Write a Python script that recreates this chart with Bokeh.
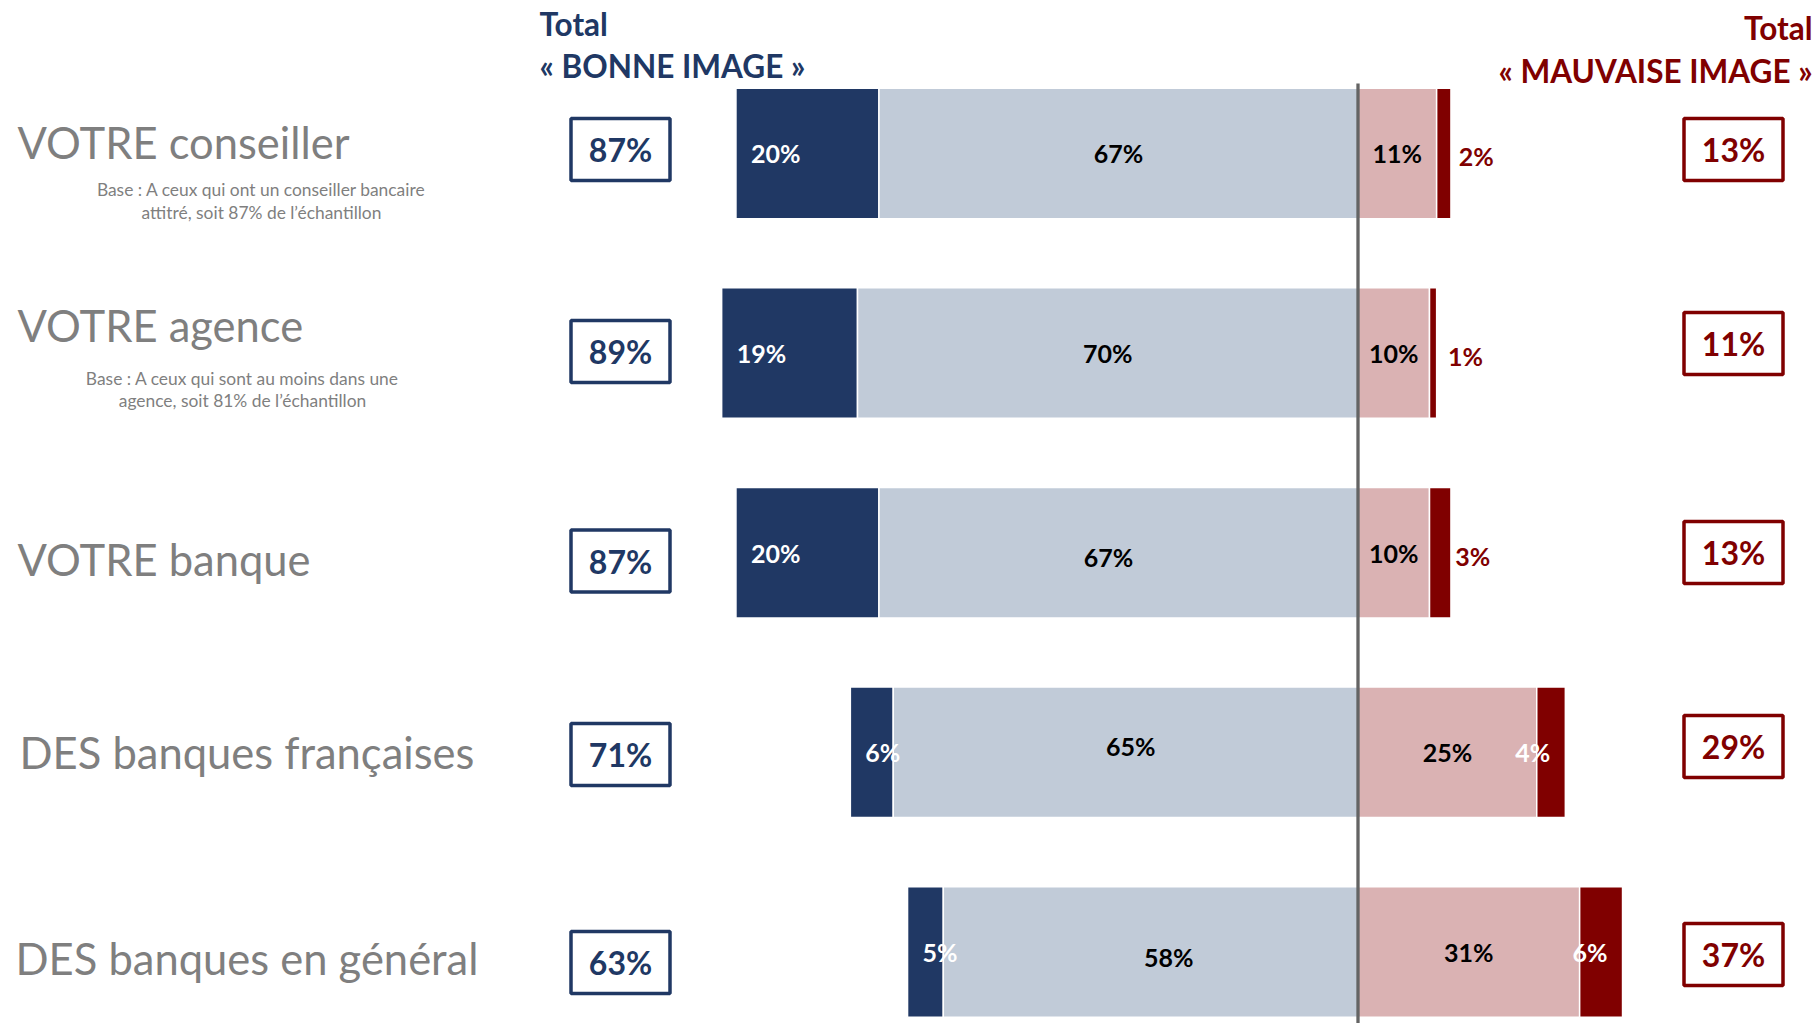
from bokeh.plotting import figure
from bokeh.models import Range1d
from bokeh.core.properties import value
from bokeh.embed import file_html
from bokeh.resources import INLINE

# ---------------- data ----------------
categories = ["VOTRE conseiller", "VOTRE agence", "VOTRE banque",
              "DES banques françaises", "DES banques en général"]
tres_bonne = [20, 19, 20, 6, 5]        # dark blue
plutot_bonne = [67, 70, 67, 65, 58]    # light blue
plutot_mauvaise = [11, 10, 10, 25, 31] # pink
tres_mauvaise = [2, 1, 3, 4, 6]        # dark red
total_bonne = [87, 89, 87, 71, 63]
total_mauvaise = [13, 11, 13, 29, 37]
base_notes = {
    0: ["Base : A ceux qui ont un conseiller bancaire", "attitré, soit 87% de l’échantillon"],
    1: ["Base : A ceux qui sont au moins dans une", "agence, soit 81% de l’échantillon"],
}

# ---------------- layout ----------------
W, H = 1818, 1023
CX = 1357.5      # px of the zero line
PPU = 7.15       # px per percent
ROW0 = 152.9     # px of first row centre
PPY = 199.65     # px between rows

def X(px):
    return (px - CX) / PPU

def Y(py):
    return (py - ROW0) / PPY

DARK_BLUE = "#203864"
LIGHT_BLUE = "#C1CBD8"
PINK = "#DAB2B3"
DARK_RED = "#800000"
GREY = "#7F7F7F"
FONT = value("Lato")

p = figure(width=W, height=H, output_backend="svg", toolbar_location=None,
           x_range=Range1d(X(0), X(W)),
           y_range=Range1d(Y(H), Y(0)),
           min_border=0, outline_line_color=None)
p.axis.visible = False
p.grid.visible = False
p.background_fill_color = "white"
p.border_fill_color = "white"

rows = list(range(len(categories)))
bh = 130.5 / PPY

left_db = [-(a + b) for a, b in zip(tres_bonne, plutot_bonne)]
right_db = [-b for b in plutot_bonne]
right_pk = list(plutot_mauvaise)
right_dr = [a + b for a, b in zip(plutot_mauvaise, tres_mauvaise)]

p.hbar(y=rows, left=left_db, right=right_db, height=bh, fill_color=DARK_BLUE,
       line_color="white", line_width=1.5)
p.hbar(y=rows, left=right_db, right=[0] * 5, height=bh, fill_color=LIGHT_BLUE,
       line_color="white", line_width=1.5)
p.hbar(y=rows, left=[0] * 5, right=right_pk, height=bh, fill_color=PINK,
       line_color="white", line_width=1.5)
p.hbar(y=rows, left=right_pk, right=right_dr, height=bh, fill_color=DARK_RED,
       line_color="white", line_width=1.5)

# zero line
p.segment(x0=[0], y0=[Y(83)], x1=[0], y1=[Y(1030)], line_color="#646464", line_width=3.3)

lbl = dict(text_font=FONT, text_font_style="bold", text_font_size="25px",
           text_baseline="middle")
# dark blue labels
p.text(x=left_db, y=rows, text=[f"{v}%" for v in tres_bonne], x_offset=15,
       text_align="left", text_color="white", **lbl)
# light blue labels (centred, with the small manual nudges of the original)
lb_dx = [0, 0, -10, 5, 18]
lb_dy = [0, 0, 4, -6, 5]
p.text(x=[r / 2 for r in right_db], y=rows, x_offset=lb_dx, y_offset=lb_dy,
       text=[f"{v}%" for v in plutot_bonne], text_align="center", text_color="black", **lbl)
# pink labels
p.text(x=[r / 2 for r in right_pk], y=rows, text=[f"{v}%" for v in plutot_mauvaise],
       text_align="center", text_color="black", **lbl)
# dark red labels
out_idx = [i for i in rows if tres_mauvaise[i] <= 3]
in_idx = [i for i in rows if tres_mauvaise[i] > 3]
p.text(x=[(right_pk[i] + right_dr[i]) / 2 for i in out_idx], y=out_idx,
       text=[f"{tres_mauvaise[i]}%" for i in out_idx], x_offset=15, y_offset=3,
       text_align="left", text_color=DARK_RED, **lbl)
p.text(x=[right_dr[i] for i in in_idx], y=in_idx,
       text=[f"{tres_mauvaise[i]}%" for i in in_idx], x_offset=-15,
       text_align="right", text_color="white", **lbl)

# total boxes
left_box_y = [149, 351, 560.5, 754, 962]
right_box_y = [149, 343, 552, 746, 954]
p.rect(x=[X(620)] * 5, y=[Y(v) for v in left_box_y], width=99, height=62,
       width_units="screen", height_units="screen", fill_color="white",
       line_color=DARK_BLUE, line_width=3.5)
p.rect(x=[X(1733)] * 5, y=[Y(v) for v in right_box_y], width=99, height=62,
       width_units="screen", height_units="screen", fill_color="white",
       line_color=DARK_RED, line_width=3.5)
box_txt = dict(text_font=FONT, text_font_style="bold", text_font_size="32px",
               text_baseline="middle", text_align="center")
p.text(x=[X(620)] * 5, y=[Y(v) for v in left_box_y], text=[f"{v}%" for v in total_bonne],
       text_color=DARK_BLUE, **box_txt)
p.text(x=[X(1733)] * 5, y=[Y(v) for v in right_box_y], text=[f"{v}%" for v in total_mauvaise],
       text_color=DARK_RED, **box_txt)

# row labels
label_y = [141.4, 324.6, 558.8, 751.3, 957.7]
label_x = [17, 17, 17, 19, 15]
p.text(x=[X(v) for v in label_x], y=[Y(v) for v in label_y], text=categories,
       text_font=FONT, text_font_size="43.5px", text_color=GREY,
       text_baseline="middle", text_align="left")

# base notes
note_pos = {0: (261, [189, 212]), 1: (242, [378, 400])}
for i, lines in base_notes.items():
    cx, ys = note_pos[i]
    p.text(x=[X(cx)] * len(lines), y=[Y(v) for v in ys], text=lines,
           text_font=FONT, text_font_size="17.4px", text_color=GREY,
           text_baseline="middle", text_align="center")

# headers
hdr = dict(text_font=FONT, text_font_style="bold", text_font_size="31.5px",
           text_baseline="middle")
p.text(x=[X(539)] * 2, y=[Y(23), Y(65)], text=["Total", "« BONNE IMAGE »"],
       text_align="left", text_color=DARK_BLUE, **hdr)
p.text(x=[X(1812)] * 2, y=[Y(27), Y(70)], text=["Total", "« MAUVAISE IMAGE »"],
       text_align="right", text_color=DARK_RED, **hdr)

open("out.html", "w").write(file_html(p, INLINE))
